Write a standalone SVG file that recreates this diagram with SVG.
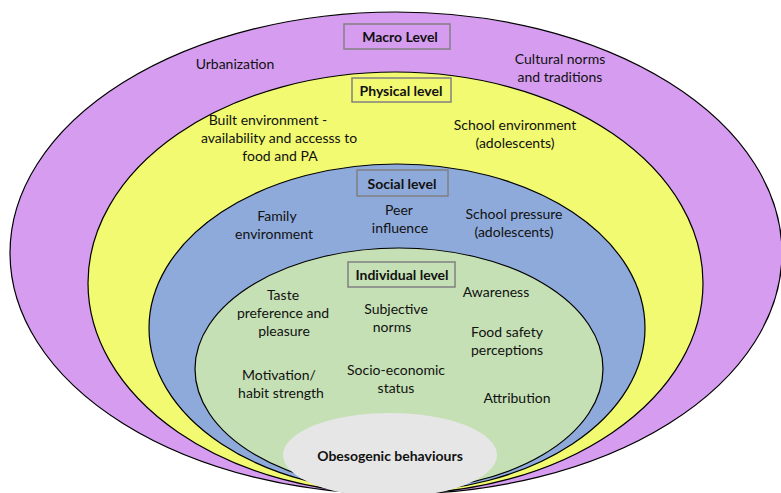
<svg xmlns="http://www.w3.org/2000/svg" width="781" height="493" viewBox="0 0 781 493">
<style>
.ring{stroke:#000;stroke-width:1.2}
.t{font-family:Lato,"Liberation Sans",sans-serif;font-size:14px;fill:#111;text-anchor:middle}
.b{font-weight:bold}
.box{stroke:#808080;stroke-width:1.5}
</style>
<rect width="781" height="493" fill="#fff"/>
<g id="macro">
<ellipse class="ring" cx="396" cy="253" rx="386" ry="241" fill="#d59cf0"/>
<rect class="box" x="344" y="24" width="106" height="25" fill="#d59cf0"/>
<text class="t b" x="400" y="42">Macro Level</text>
<text class="t" x="235" y="69">Urbanization</text>
<text class="t" x="560" y="64">Cultural norms</text>
<text class="t" x="560" y="82">and traditions</text>
</g>
<g id="physical">
<ellipse class="ring" cx="395.5" cy="283" rx="307.5" ry="211" fill="#f2fa72"/>
<rect class="box" x="352" y="78" width="99" height="24" fill="#f2fa72"/>
<text class="t b" x="401" y="96">Physical level</text>
<text class="t" x="268" y="125">Built environment -</text>
<text class="t" x="279" y="143">availability and accesss to</text>
<text class="t" x="280" y="161">food and PA</text>
<text class="t" x="515" y="130">School environment</text>
<text class="t" x="515" y="148">(adolescents)</text>
</g>
<g id="social">
<ellipse class="ring" cx="397" cy="328" rx="248" ry="164" fill="#8eaadb"/>
<rect class="box" x="357" y="170" width="91" height="26" fill="#8eaadb"/>
<text class="t b" x="402" y="189">Social level</text>
<text class="t" x="277" y="221">Family</text>
<text class="t" x="274" y="239">environment</text>
<text class="t" x="399" y="215">Peer</text>
<text class="t" x="400" y="233">influence</text>
<text class="t" x="514" y="219">School pressure</text>
<text class="t" x="514" y="237">(adolescents)</text>
</g>
<g id="individual">
<ellipse class="ring" cx="399" cy="369" rx="204" ry="121" fill="#c5e0b4"/>
<rect class="box" x="348" y="262" width="107" height="25" fill="#c5e0b4"/>
<text class="t b" x="402" y="280">Individual level</text>
<text class="t" x="283" y="300">Taste</text>
<text class="t" x="283" y="318">preference and</text>
<text class="t" x="284" y="336">pleasure</text>
<text class="t" x="396" y="314">Subjective</text>
<text class="t" x="392" y="332">norms</text>
<text class="t" x="496" y="297">Awareness</text>
<text class="t" x="507" y="337">Food safety</text>
<text class="t" x="507" y="355">perceptions</text>
<text class="t" x="279" y="380">Motivation/</text>
<text class="t" x="281" y="398">habit strength</text>
<text class="t" x="396" y="375">Socio-economic</text>
<text class="t" x="396" y="393">status</text>
<text class="t" x="517" y="403">Attribution</text>
</g>
<g id="obesogenic">
<ellipse cx="390" cy="455" rx="107" ry="42" fill="#e6e6e6"/>
<text class="t b" x="390" y="461">Obesogenic behaviours</text>
</g>
<g id="connectors"></g>
</svg>
